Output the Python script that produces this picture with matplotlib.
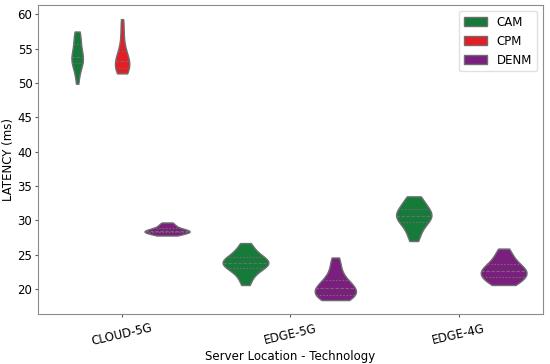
import matplotlib
matplotlib.use('Agg')
import numpy as np
import matplotlib.pyplot as plt
from matplotlib import mlab
from matplotlib.patches import Patch

categories = ['CLOUD-5G', 'EDGE-5G', 'EDGE-4G']
messages = ['CAM', 'CPM', 'DENM']

cloud5g_cam = [49.9, 51.0, 51.8, 52.4, 52.8, 53.0, 53.2, 53.4, 53.5, 53.7, 53.9,
               54.2, 54.6, 55.0, 55.5, 56.0, 56.5, 57.0, 57.3, 57.5]
cloud5g_cpm = [51.4, 51.5, 51.7, 51.9, 52.1, 52.3, 52.5, 52.7, 52.9, 53.1, 53.3,
               53.5, 53.8, 54.1, 54.5, 55.0, 55.8, 57.0, 58.2, 59.3]
cloud5g_denm = [27.8, 27.9, 28.0, 28.1, 28.2, 28.3, 28.3, 28.4, 28.4, 28.5, 28.5,
                28.6, 28.7, 28.8, 28.9, 29.1, 29.3, 29.5, 29.7]
edge5g_cam = [20.6, 21.5, 22.2, 22.7, 23.0, 23.3, 23.5, 23.7, 23.8, 23.9, 24.0,
              24.2, 24.4, 24.7, 25.0, 25.5, 26.0, 26.7]
edge5g_denm = [18.4, 18.5, 18.7, 18.9, 19.1, 19.3, 19.5, 19.7, 19.9, 20.1, 20.3,
               20.5, 20.8, 21.1, 21.5, 22.0, 22.8, 23.7, 24.6]
edge4g_cam = [27.0, 27.8, 28.6, 29.2, 29.7, 30.0, 30.3, 30.5, 30.7, 30.9, 31.1,
              31.4, 31.7, 32.1, 32.6, 33.1, 33.5]
edge4g_denm = [20.6, 20.8, 21.1, 21.4, 21.7, 21.9, 22.1, 22.3, 22.5, 22.7, 22.9,
               23.1, 23.4, 23.7, 24.1, 24.6, 25.2, 25.9]

groups = [
    ('CLOUD-5G', 'CAM', cloud5g_cam, 0.068),
    ('CLOUD-5G', 'CPM', cloud5g_cpm, 0.085),
    ('CLOUD-5G', 'DENM', cloud5g_denm, 0.268),
    ('EDGE-5G', 'CAM', edge5g_cam, 0.272),
    ('EDGE-5G', 'DENM', edge5g_denm, 0.245),
    ('EDGE-4G', 'CAM', edge4g_cam, 0.21),
    ('EDGE-4G', 'DENM', edge4g_denm, 0.272),
]

colors = {'CAM': '#167a3a', 'CPM': '#e51d24', 'DENM': '#7a1f7d'}
offsets = {'CAM': -0.267, 'CPM': 0.0, 'DENM': 0.267}

plt.rcParams['font.family'] = 'DejaVu Sans'
fig = plt.figure(figsize=(5.5, 3.64), dpi=100)
ax = fig.add_axes([0.069, 0.137, 0.918, 0.849])

for cat, msg, vals, w in groups:
    pos = categories.index(cat) + offsets[msg]
    parts = ax.violinplot([vals], positions=[pos], widths=[w], showextrema=False,
                          points=200)
    body = parts['bodies'][0]
    body.set_facecolor(colors[msg])
    body.set_edgecolor('#6e6e6e')
    body.set_linewidth(1.0)
    body.set_alpha(1)
    v = np.asarray(vals)
    kde = mlab.GaussianKDE(v, 'scott')
    coords = np.linspace(v.min(), v.max(), 200)
    scale = w * 0.5 / kde.evaluate(coords).max()
    for q, ls in zip(np.percentile(v, [25, 50, 75]), [(0, (1.5, 1.5)), (0, (3, 1.5)), (0, (1.5, 1.5))]):
        h = kde.evaluate([q])[0] * scale
        ax.plot([pos - h, pos + h], [q, q], color='#6e6e6e', linestyle=ls, lw=0.8)

ax.set_xlim(-0.5, 2.5)
ax.set_xticks(range(len(categories)))
ax.set_xticklabels(categories, rotation=13, fontsize=8.5)
ax.tick_params(axis='y', labelsize=8.5)
ax.tick_params(colors='0.35', labelcolor='black', length=2.5, pad=1.5)
ax.tick_params(axis='x', pad=3)
for s in ax.spines.values():
    s.set_color('0.55')
ax.set_xlabel('Server Location - Technology', fontsize=8.5, labelpad=1)
ax.set_ylabel('LATENCY (ms)', fontsize=8.5, labelpad=2)

handles = [Patch(facecolor=colors[m], edgecolor='#6e6e6e', label=m) for m in messages]
ax.legend(handles=handles, loc='upper right', fontsize=8.5, frameon=True,
          edgecolor='0.85')

fig.savefig('out.png', dpi=100)
